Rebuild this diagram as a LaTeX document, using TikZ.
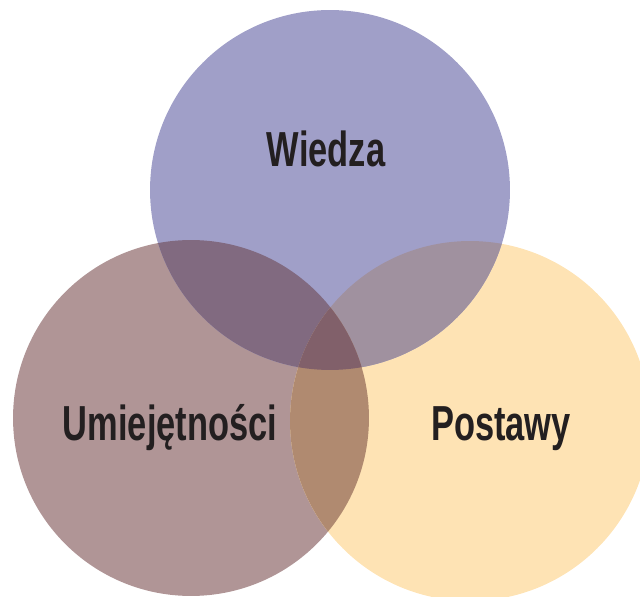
\documentclass[tikz,border=0pt]{standalone}
\usepackage{fontspec}
\newfontfamily\condfont[FakeStretch=0.7]{Liberation Sans}
\definecolor{wiedzacol}{HTML}{A09FC8}
\definecolor{umiejcol}{HTML}{B09596}
\definecolor{postcol}{HTML}{FEE3B4}
\definecolor{wucol}{HTML}{816A80}
\definecolor{wpcol}{HTML}{A0919F}
\definecolor{upcol}{HTML}{B08A70}
\definecolor{allcol}{HTML}{81606A}
\definecolor{txtcol}{HTML}{231F20}

\begin{document}
\begin{tikzpicture}[x=0.02cm,y=0.02cm]
  \tikzstyle lbl=[font=\condfont\bfseries\fontsize{28}{30}\selectfont,text=txtcol,anchor=base];
  \useasboundingbox (0,0) rectangle (640,596);

  % circle centres
  \coordinate (cw) at (330,406);
  \coordinate (cu) at (191,178);
  \coordinate (cp) at (470,175);
  \def\wcirc{(cw) circle (3.6cm)}
  \def\ucirc{(cu) circle (3.56cm)}
  \def\pcirc{(cp) circle (3.6cm)}

  % circles
  \fill[umiejcol] \ucirc;
  \fill[postcol] \pcirc;
  \fill[wiedzacol] \wcirc;

  % overlaps
  \begin{scope}
    \clip \wcirc;
    \fill[wucol] \ucirc;
    \fill[wpcol] \pcirc;
  \end{scope}
  \begin{scope}
    \clip \ucirc;
    \fill[upcol] \pcirc;
    \clip \pcirc;
    \fill[allcol] \wcirc;
  \end{scope}

  % text
  \node[lbl] (wiedza) at (326,429) {Wiedza};
  \node[lbl] (umiej) at (170,155) {Umiejętności};
  \node[lbl] (postawy) at (501,155) {Postawy};
\end{tikzpicture}
\end{document}
